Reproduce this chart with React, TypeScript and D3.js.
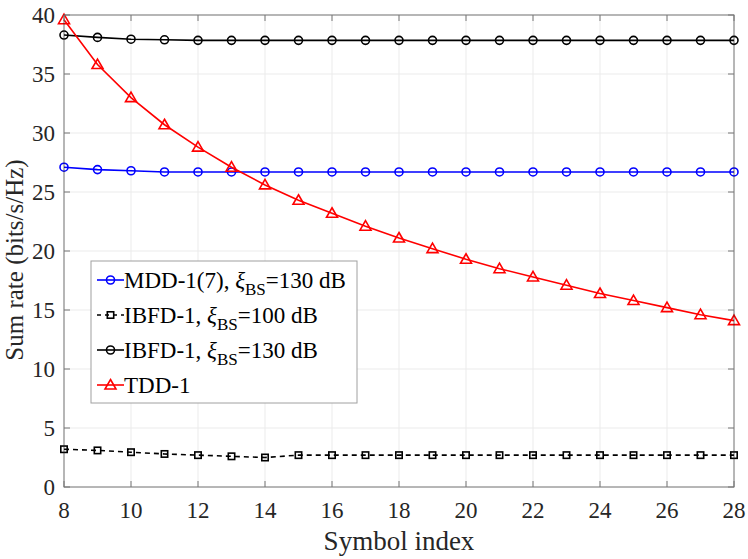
import React from "react";
import * as d3 from "d3";

const symbols = [8, 9, 10, 11, 12, 13, 14, 15, 16, 17, 18, 19, 20, 21, 22, 23, 24, 25, 26, 27, 28];
const mdd130 = [27.1, 26.9, 26.8, 26.7, 26.7, 26.7, 26.7, 26.7, 26.7, 26.7, 26.7, 26.7, 26.7, 26.7, 26.7, 26.7, 26.7, 26.7, 26.7, 26.7, 26.7];
const ibfd100 = [3.2, 3.1, 2.95, 2.8, 2.7, 2.6, 2.5, 2.7, 2.7, 2.7, 2.7, 2.7, 2.7, 2.7, 2.7, 2.7, 2.7, 2.7, 2.7, 2.7, 2.7];
const ibfd130 = [38.3, 38.1, 37.95, 37.9, 37.85, 37.85, 37.85, 37.85, 37.85, 37.85, 37.85, 37.85, 37.85, 37.85, 37.85, 37.85, 37.85, 37.85, 37.85, 37.85, 37.85];
const tdd = [39.6, 35.8, 33.0, 30.7, 28.8, 27.1, 25.6, 24.3, 23.2, 22.1, 21.1, 20.2, 19.3, 18.5, 17.8, 17.1, 16.4, 15.8, 15.2, 14.6, 14.1];
const xTicks = [8, 10, 12, 14, 16, 18, 20, 22, 24, 26, 28];
const yTicks = [0, 5, 10, 15, 20, 25, 30, 35, 40];

const W = 748, H = 559;
const L = 64, R = 734, T = 15, B = 487;
const font = "Liberation Serif, Times New Roman, serif";

const series = [
  {name: "MDD-1(7), ", sub: true, tail: "=130 dB", data: mdd130, color: "#0000ff", marker: "circle", dash: ""},
  {name: "IBFD-1, ", sub: true, tail: "=100 dB", data: ibfd100, color: "#000000", marker: "square", dash: "5,4"},
  {name: "IBFD-1, ", sub: true, tail: "=130 dB", data: ibfd130, color: "#000000", marker: "circle", dash: ""},
  {name: "TDD-1", sub: false, tail: "", data: tdd, color: "#ff0000", marker: "triangle", dash: ""},
];

const Marker = ({kind, x, y, color}: {kind: string, x: number, y: number, color: string}) => {
  if (kind === "circle") return <circle cx={x} cy={y} r={4} fill="none" stroke={color} strokeWidth={1.6}/>;
  if (kind === "square") return <rect x={x - 3.2} y={y - 3.2} width={6.4} height={6.4} fill="none" stroke={color} strokeWidth={1.6}/>;
  return <path d={`M${x},${y - 5.5}L${x + 5.5},${y + 4}L${x - 5.5},${y + 4}Z`} fill="none" stroke={color} strokeWidth={1.6}/>;
};

const App = () => {
  const x = d3.scaleLinear().domain([8, 28]).range([L, R]);
  const y = d3.scaleLinear().domain([0, 40]).range([B, T]);
  const line = d3.line<number>().x((_, i) => x(symbols[i])).y(d => y(d));

  const lgX = 91, lgY = 261, lgW = 266, lgH = 142, rowH = 35;

  return (
    <svg width={W} height={H} style={{position: "absolute", left: 0, top: 0, background: "#fff", fontFamily: font}}>
      <rect x={L} y={T} width={R - L} height={B - T} fill="#fff"/>
      {/* grid */}
      {xTicks.map(t => <line key={"gx" + t} x1={x(t)} x2={x(t)} y1={T} y2={B} stroke="#ebebeb" strokeWidth={1}/>)}
      {yTicks.map(t => <line key={"gy" + t} x1={L} x2={R} y1={y(t)} y2={y(t)} stroke="#ebebeb" strokeWidth={1}/>)}
      {/* lines */}
      {series.map((s, k) => (
        <g key={k}>
          <path d={line(s.data) || ""} fill="none" stroke={s.color} strokeWidth={1.6} strokeDasharray={s.dash}/>
          {s.data.map((v, i) => <Marker key={i} kind={s.marker} x={x(symbols[i])} y={y(v)} color={s.color}/>)}
        </g>
      ))}
      {/* box + ticks */}
      <rect x={L} y={T} width={R - L} height={B - T} fill="none" stroke="#262626" strokeOpacity={0.6} strokeWidth={1}/>
      {xTicks.map(t => (
        <g key={"tx" + t}>
          <line x1={x(t)} x2={x(t)} y1={B} y2={B - 6} stroke="#777"/>
          <line x1={x(t)} x2={x(t)} y1={T} y2={T + 6} stroke="#777"/>
          <text x={x(t)} y={B + 31} textAnchor="middle" fontSize={23} fill="#262626">{t}</text>
        </g>
      ))}
      {yTicks.map(t => (
        <g key={"ty" + t}>
          <line x1={L} x2={L + 6} y1={y(t)} y2={y(t)} stroke="#777"/>
          <line x1={R} x2={R - 6} y1={y(t)} y2={y(t)} stroke="#777"/>
          <text x={L - 9} y={y(t) + 8} textAnchor="end" fontSize={23} fill="#262626">{t}</text>
        </g>
      ))}
      <text x={(L + R) / 2} y={550} textAnchor="middle" fontSize={27} fill="#262626">Symbol index</text>
      <text transform={`translate(23,260) rotate(-90)`} textAnchor="middle" fontSize={25} fill="#262626">Sum rate (bits/s/Hz)</text>
      {/* legend */}
      <rect x={lgX} y={lgY} width={lgW} height={lgH} fill="#fff" stroke="#a0a0a0" strokeWidth={1}/>
      {series.map((s, k) => {
        const cy = lgY + 19 + k * rowH;
        return (
          <g key={"lg" + k}>
            <line x1={lgX + 6} x2={lgX + 33} y1={cy} y2={cy} stroke={s.color} strokeWidth={1.6} strokeDasharray={s.dash ? "4,4" : ""}/>
            <Marker kind={s.marker} x={lgX + 19.5} y={cy} color={s.color}/>
            <text x={lgX + 33} y={cy + 8} fontSize={23} fill="#000">
              {s.name}
              {s.sub && <tspan fontStyle="italic">ξ</tspan>}
              {s.sub && <tspan dy={7} fontSize={17}>BS</tspan>}
              {s.sub && <tspan dy={-7}>{s.tail}</tspan>}
            </text>
          </g>
        );
      })}
    </svg>
  );
};

export default App;
